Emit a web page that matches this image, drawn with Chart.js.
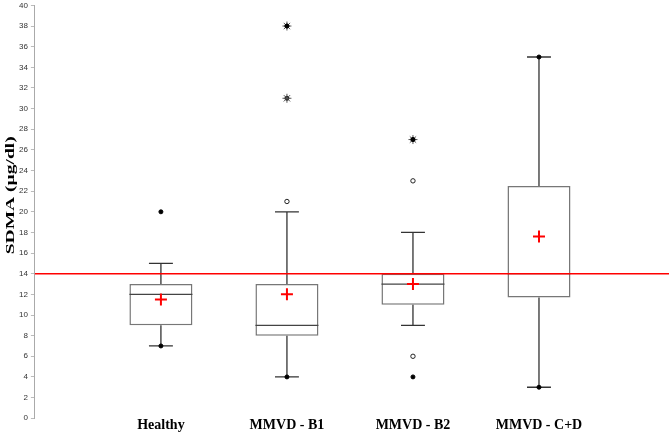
<!DOCTYPE html>
<html>
<head>
<meta charset="utf-8">
<script src="https://cdn.jsdelivr.net/npm/chart.js@4"></script>
<style>
  html, body { margin: 0; padding: 0; background: #fff; }
  #wrap { width: 671px; height: 433px; }
</style>
</head>
<body>
<div id="wrap"><canvas id="chart"></canvas></div>
<script>
// groups and box statistics
const categories = ['Healthy', 'MMVD - B1', 'MMVD - B2', 'MMVD - C+D'];
const q1 = [9, 8, 11, 11.7];
const median = [12, 9, 13, 14];
const q3 = [13, 13, 14, 22.5];
const whiskerLow = [7, 4, 9, 3];
const whiskerHigh = [15, 20, 18, 35];
const mean = [11.5, 12, 13, 17.6];
const minimum = [7, 4, 4, 3];
const maximum = [20, 38, 27, 35];
// outliers: [group index, value]
const mildOutliers = [[1, 21], [2, 23], [2, 6]];
const extremeOutliers = [[1, 38], [1, 31], [2, 27]];
const threshold = 14;
const yTitle = 'SDMA (µg/dl)';

// blank slots at both ends so groups sit at 1..4 of 0..5
const labels = ['', ...categories, ''];
const pad = arr => [null, ...arr, null];
const toPoints = list => list.map(([i, v]) => ({ x: categories[i], y: v }));

const boxExtras = {
  id: 'boxExtras',
  afterDatasetDraw(chart, args) {
    if (args.index !== 0) return;
    const ctx = chart.ctx;
    const y = chart.scales.y;
    const area = chart.chartArea;
    const bars = args.meta.data;
    ctx.save();
    categories.forEach((c, i) => {
      const bar = bars[i + 1];
      if (!bar) return;
      const cx = bar.x;
      const half = bar.width / 2;
      const cap = bar.width * 0.19;
      ctx.strokeStyle = '#333';
      ctx.lineWidth = 1.3;
      ctx.beginPath();
      // whiskers
      ctx.moveTo(cx, y.getPixelForValue(q3[i]));
      ctx.lineTo(cx, y.getPixelForValue(whiskerHigh[i]));
      ctx.moveTo(cx, y.getPixelForValue(q1[i]));
      ctx.lineTo(cx, y.getPixelForValue(whiskerLow[i]));
      // caps
      ctx.moveTo(cx - cap, y.getPixelForValue(whiskerHigh[i]));
      ctx.lineTo(cx + cap, y.getPixelForValue(whiskerHigh[i]));
      ctx.moveTo(cx - cap, y.getPixelForValue(whiskerLow[i]));
      ctx.lineTo(cx + cap, y.getPixelForValue(whiskerLow[i]));
      ctx.stroke();
      // median
      ctx.beginPath();
      ctx.strokeStyle = '#444';
      ctx.moveTo(cx - half, y.getPixelForValue(median[i]));
      ctx.lineTo(cx + half, y.getPixelForValue(median[i]));
      ctx.stroke();
    });
    // reference line
    const ty = y.getPixelForValue(threshold);
    ctx.strokeStyle = '#ff0000';
    ctx.lineWidth = 1.5;
    ctx.beginPath();
    ctx.moveTo(area.left, ty);
    ctx.lineTo(area.right + 4, ty);
    ctx.stroke();
    ctx.restore();
  },
  afterDraw(chart) {
    // axis title, drawn stretched like the original
    const ctx = chart.ctx;
    const y = chart.scales.y;
    ctx.save();
    ctx.font = 'bold 12px "Liberation Serif", "Times New Roman", serif';
    const w = ctx.measureText(yTitle).width;
    ctx.translate(11, y.getPixelForValue(21.6));
    ctx.rotate(-Math.PI / 2);
    ctx.scale(118 / w, 1);
    ctx.fillStyle = '#000';
    ctx.textAlign = 'center';
    ctx.textBaseline = 'middle';
    ctx.fillText(yTitle, 0, 0);
    ctx.restore();
  }
};

const pointSet = (data, style, radius, color, fill, width) => ({
  type: 'line',
  data: data,
  showLine: false,
  order: 0,
  pointStyle: style,
  pointRadius: radius,
  pointHoverRadius: radius,
  pointBorderColor: color,
  pointBackgroundColor: fill,
  pointBorderWidth: width
});

new Chart(document.getElementById('chart'), {
  type: 'bar',
  data: {
    labels: labels,
    datasets: [
      {
        data: pad(categories.map((c, i) => [q1[i], q3[i]])),
        backgroundColor: '#ffffff',
        borderColor: '#777',
        borderWidth: 1.5,
        borderSkipped: false,
        barPercentage: 0.5,
        categoryPercentage: 1,
        order: 10
      },
      pointSet(pad(mean), 'cross', 6, '#ff0000', '#ff0000', 2),
      pointSet(toPoints(categories.map((c, i) => [i, minimum[i]])), 'circle', 2, '#000', '#000', 1),
      pointSet(toPoints(categories.map((c, i) => [i, maximum[i]])), 'circle', 2, '#000', '#000', 1),
      pointSet(toPoints(mildOutliers), 'circle', 2.2, '#222', '#fff', 1),
      pointSet(toPoints(extremeOutliers), 'star', 4.5, '#555', '#555', 1),
      pointSet(toPoints(extremeOutliers), 'circle', 2, '#000', '#000', 1)
    ]
  },
  options: {
    responsive: true,
    maintainAspectRatio: false,
    animation: false,
    layout: { autoPadding: false, padding: { top: 0, right: 6, bottom: 0, left: 16 } },
    plugins: {
      legend: { display: false },
      tooltip: { enabled: false }
    },
    scales: {
      x: {
        type: 'category',
        offset: false,
        grid: { display: false, drawTicks: false },
        border: { display: false },
        ticks: {
          padding: -1,
          autoSkip: false,
          maxRotation: 0,
          color: '#000',
          font: { family: '"Liberation Serif", "Times New Roman", serif', size: 14, weight: 'bold' }
        }
      },
      y: {
        min: 0,
        max: 40,
        ticks: {
          stepSize: 2,
          padding: 3,
          color: '#333',
          font: { family: '"Liberation Sans", Arial, sans-serif', size: 8, lineHeight: 0.6 }
        },
        grid: { drawOnChartArea: false, tickLength: 4, color: '#bbb' },
        border: { color: '#aaa', width: 1 }
      }
    }
  },
  plugins: [boxExtras]
});
</script>
</body>
</html>
